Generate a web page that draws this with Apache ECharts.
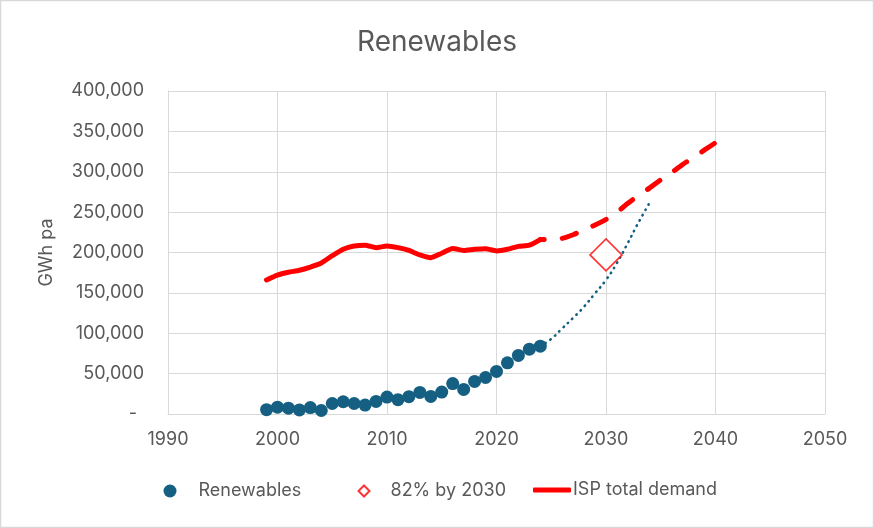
<!DOCTYPE html>
<html>
<head>
<meta charset="utf-8">
<script src="https://cdn.jsdelivr.net/npm/echarts@6/dist/echarts.min.js"></script>
<style>
html,body{margin:0;padding:0;background:#fff;}
#c{width:874px;height:528px;}
</style>
</head>
<body>
<div id="c"></div>
<script>
// ---- data ----
const renewYears = [1999,2000,2001,2002,2003,2004,2005,2006,2007,2008,2009,2010,2011,2012,2013,2014,2015,2016,2017,2018,2019,2020,2021,2022,2023,2024];
const renewValues = [5300,8400,7200,5000,8000,4300,13000,15200,13000,11000,15600,21000,17700,21400,26700,21800,27200,37700,30400,40300,45200,52700,63400,72600,80300,84000];

const trendYears = [2024,2025,2026,2027,2028,2029,2030,2031,2032,2033,2034];
const trendValues = [84000,93000,106000,119000,133000,149500,166000,187000,212000,238000,262000];

const targetYears = [2030];
const targetValues = [197000];

const demandYears = [1999,2000,2001,2002,2003,2004,2005,2006,2007,2008,2009,2010,2011,2012,2013,2014,2015,2016,2017,2018,2019,2020,2021,2022,2023,2024];
const demandValues = [166000,172000,175500,178000,182000,187000,196000,204000,208000,209000,206000,208000,206000,202500,197000,193600,199000,205000,202600,204000,204700,202000,204000,207600,209000,216000];

const projYears = [2024,2025,2026,2027,2028,2029,2030,2031,2032,2033,2034,2035,2036,2037,2038,2039,2040];
const projValues = [216000,216500,217500,222000,228000,234000,241000,250000,261000,271000,280000,290000,299000,309000,318000,327000,336000];

const xTicks = {min:1990, max:2050, interval:10};
const yTicks = {min:0, max:400000, interval:50000};

function pairs(xs, ys){ return xs.map((x,i)=>[x, ys[i]]); }

const FONT = 'Inter';
const TXT = '#595959';
const GRID = '#d9d9d9';

const chart = echarts.init(document.getElementById('c'), null, {renderer:'canvas'});
chart.setOption({
  animation:false,
  backgroundColor:'#ffffff',
  title:{
    text:'Renewables', left:'center', top:24,
    textStyle:{fontFamily:FONT, fontSize:28, fontWeight:'normal', color:TXT}
  },
  grid:{left:168, right:49, top:91, bottom:114, containLabel:false},
  xAxis:{
    type:'value', min:xTicks.min, max:xTicks.max, interval:xTicks.interval,
    axisLine:{show:true, lineStyle:{color:GRID, width:1}},
    axisTick:{show:false},
    splitLine:{show:true, lineStyle:{color:GRID, width:1}},
    axisLabel:{margin:17, fontFamily:FONT, fontSize:18, color:TXT, formatter:v=>String(v)}
  },
  yAxis:{
    type:'value', min:yTicks.min, max:yTicks.max, interval:yTicks.interval,
    name:'GWh pa', nameLocation:'middle', nameGap:112, nameRotate:90,
    nameTextStyle:{fontFamily:FONT, fontSize:18, color:TXT},
    axisLine:{show:true, lineStyle:{color:GRID, width:1}},
    axisTick:{show:false},
    splitLine:{show:true, lineStyle:{color:GRID, width:1}},
    axisLabel:{
      margin:24, fontFamily:FONT, fontSize:18, color:TXT,
      formatter:v=> v===0 ? '{d|-}' : v.toLocaleString('en-US'),
      rich:{d:{fontFamily:FONT, fontSize:18, color:TXT, padding:[0,7,0,0]}}
    }
  },
  legend:[
    {data:['Renewables'], left:163.5, top:482, padding:0, itemWidth:13, itemHeight:13,
     textStyle:{fontFamily:FONT, fontSize:18, color:TXT, padding:[0,0,0,17]}},
    {data:['82% by 2030'], left:357.5, top:482, padding:0, itemWidth:11, itemHeight:11,
     textStyle:{fontFamily:FONT, fontSize:18, color:TXT, padding:[0,0,0,16]}},
    {data:[{name:'ISP total demand', icon:'roundRect'}], left:533, top:481, padding:0, itemWidth:38, itemHeight:5,
     itemStyle:{color:'#ff0000', borderWidth:0},
     textStyle:{fontFamily:FONT, fontSize:18, color:TXT, padding:[0,0,0,-3]}}
  ],
  series:[
    {
      name:'Expon. (Renewables)', type:'line', data:pairs(trendYears, trendValues),
      smooth:true, symbol:'none', z:2,
      lineStyle:{color:'#156082', width:2.6, type:[0.5,5.5], cap:'round'}
    },
    {
      name:'Renewables', type:'scatter', data:pairs(renewYears, renewValues),
      symbol:'circle', symbolSize:13, z:4,
      itemStyle:{color:'#156082', opacity:1}
    },
    {
      name:'82% by 2030', type:'scatter', data:pairs(targetYears, targetValues),
      symbol:'diamond', symbolSize:32, z:3,
      itemStyle:{color:'#ffffff', borderColor:'#ff0000', borderWidth:1.6}
    },
    {
      name:'ISP total demand', type:'line', data:pairs(demandYears, demandValues),
      smooth:0.2, symbol:'none', z:3,
      lineStyle:{color:'#ff0000', width:5, type:'solid', cap:'round'},
      itemStyle:{color:'#ff0000'}
    },
    {
      name:'ISP total demand', type:'line', data:pairs(projYears, projValues),
      smooth:0.2, symbol:'none', z:3,
      lineStyle:{color:'#ff0000', width:5, type:[15,18], cap:'round', dashOffset:-22},
      itemStyle:{color:'#ff0000'}
    }
  ],
  graphic:[
    {type:'rect', shape:{x:0.5, y:0.5, width:873, height:527},
     style:{fill:'none', stroke:'#d9d9d9', lineWidth:1.5}, silent:true, z:-1}
  ]
});
</script>
</body>
</html>
